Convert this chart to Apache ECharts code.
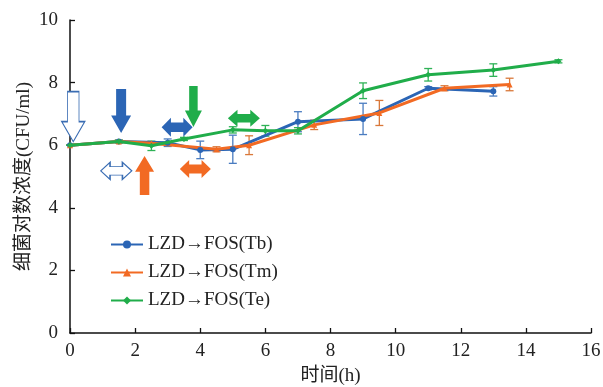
<!DOCTYPE html>
<html>
<head>
<meta charset="utf-8">
<script src="https://cdn.jsdelivr.net/npm/echarts@6/dist/echarts.min.js"></script>
<style>html,body{margin:0;padding:0;background:#fff}#c{width:603px;height:387px}</style>
</head>
<body>
<div id="c"></div>
<script>
// Time points (h) and log concentrations
const tbX = [0, 1.5, 3, 4, 5, 7, 9, 11, 13];
const tbY = [6.0, 6.12, 6.08, 5.85, 5.87, 6.75, 6.84, 7.82, 7.72];
const tbErr = [0, 0.04, 0.12, 0.28, 0.45, 0.32, 0.5, 0.05, 0.15];

const tmX = [0, 1.5, 2.5, 4.5, 5.5, 7.5, 9.5, 11.5, 13.5];
const tmY = [6.0, 6.12, 6.06, 5.87, 6.0, 6.65, 7.03, 7.82, 7.94];
const tmErr = [0, 0.04, 0.05, 0.08, 0.3, 0.15, 0.4, 0.08, 0.2];

const teX = [0, 1.5, 2.5, 3.5, 5, 6, 7, 9, 11, 13, 15];
const teY = [6.0, 6.12, 5.98, 6.2, 6.49, 6.46, 6.46, 7.74, 8.25, 8.4, 8.68];
const teErr = [0, 0.04, 0.15, 0.05, 0.1, 0.17, 0.1, 0.25, 0.2, 0.2, 0.05];

const seriesNames = ['LZD\u2192FOS(Tb)', 'LZD\u2192FOS(Tm)', 'LZD\u2192FOS(Te)'];
const xTicks = [0, 2, 4, 6, 8, 10, 12, 14, 16];
const yTicks = [0, 2, 4, 6, 8, 10];

// Annotation arrows (data-space centres)
const arrowX = [0.10, 1.57, 1.42, 2.29, 3.29, 3.79, 3.85, 5.34];
const arrowY = [6.91, 7.09, 5.18, 5.03, 6.57, 7.24, 5.24, 6.86];
const arrowKind = ['down', 'down', 'double', 'up', 'double', 'down', 'double', 'double'];
const arrowColor = ['hollow', 'blue', 'hollow', 'orange', 'blue', 'green', 'orange', 'green'];
const arrowSize = [[23, 50], [20, 44], [31, 17], [19, 39], [31, 19], [17, 41], [31, 18], [32, 17]];

const COL = { blue: '#2b65b5', orange: '#f26a23', green: '#20ad4a' };
const PATH = {
  down: 'path://M25,0 L75,0 L75,60 L100,60 L50,100 L0,60 L25,60 Z',
  up: 'path://M50,0 L100,40 L75,40 L75,100 L25,100 L25,40 L0,40 Z',
  double: 'path://M0,50 L30,0 L30,25 L70,25 L70,0 L100,50 L70,100 L70,75 L30,75 L30,100 Z'
};

function zip(xs, ys) { return xs.map((x, i) => [x, ys[i]]); }
function errData(xs, ys, es) { return xs.map((x, i) => [x, ys[i] - es[i], ys[i] + es[i]]); }

function errSeries(xs, ys, es, color) {
  return {
    type: 'custom',
    data: errData(xs, ys, es),
    z: 3,
    silent: true,
    renderItem: function (params, api) {
      const x = api.value(0);
      const lo = api.coord([x, api.value(1)]);
      const hi = api.coord([x, api.value(2)]);
      const w = 4;
      const st = { stroke: color, lineWidth: 1.3 };
      return {
        type: 'group',
        children: [
          { type: 'line', shape: { x1: lo[0], y1: lo[1], x2: hi[0], y2: hi[1] }, style: st },
          { type: 'line', shape: { x1: lo[0] - w, y1: lo[1], x2: lo[0] + w, y2: lo[1] }, style: st },
          { type: 'line', shape: { x1: hi[0] - w, y1: hi[1], x2: hi[0] + w, y2: hi[1] }, style: st }
        ]
      };
    }
  };
}

const FONT = '"Liberation Serif", "Noto Sans CJK SC", serif';

const arrowData = arrowX.map((x, i) => {
  const c = arrowColor[i];
  const style = c === 'hollow'
    ? { color: '#ffffff', borderColor: '#3a6db3', borderWidth: 1.2, opacity: 1 }
    : { color: COL[c], borderWidth: 0, opacity: 1 };
  return {
    value: [x, arrowY[i]],
    symbol: PATH[arrowKind[i]],
    symbolSize: arrowSize[i],
    itemStyle: style
  };
});

const chart = echarts.init(document.getElementById('c'), null, { renderer: 'canvas' });
chart.setOption({
  animation: false,
  backgroundColor: '#ffffff',
  grid: { left: 70, right: 12, top: 20, bottom: 54, containLabel: false, outerBoundsMode: 'none' },
  xAxis: {
    type: 'value', min: xTicks[0], max: xTicks[xTicks.length - 1], interval: 2,
    name: '时间(h)', nameLocation: 'middle', nameGap: 34, nameMoveOverlap: false,
    nameTextStyle: { fontFamily: FONT, fontSize: 19, color: '#222' },
    axisLine: { lineStyle: { color: '#111', width: 1.5 } },
    axisTick: { inside: true, length: 5, lineStyle: { color: '#111', width: 1.3 } },
    axisLabel: { fontFamily: FONT, fontSize: 19, color: '#222', margin: 9 },
    splitLine: { show: false }
  },
  yAxis: {
    type: 'value', min: yTicks[0], max: yTicks[yTicks.length - 1], interval: 2,
    name: '细菌对数浓度(CFU/ml)', nameLocation: 'middle', nameGap: 36, nameRotate: 90,
    nameMoveOverlap: false,
    nameTextStyle: { fontFamily: FONT, fontSize: 19, color: '#222' },
    axisLine: { show: true, lineStyle: { color: '#111', width: 1.5 } },
    axisTick: { show: true, inside: true, length: 5, lineStyle: { color: '#111', width: 1.3 } },
    axisLabel: { fontFamily: FONT, fontSize: 19, color: '#222', margin: 12 },
    splitLine: { show: false }
  },
  legend: {
    data: seriesNames,
    orient: 'vertical',
    left: 105, top: 230,
    itemWidth: 32, itemHeight: 10, itemGap: 9,
    textStyle: { fontFamily: FONT, fontSize: 19, color: '#222' }
  },
  series: [
    errSeries(tbX, tbY, tbErr, '#4a7cc0'),
    errSeries(tmX, tmY, tmErr, '#d9783a'),
    errSeries(teX, teY, teErr, '#2fb257'),
    {
      name: seriesNames[0], type: 'line', data: zip(tbX, tbY), z: 4,
      symbol: 'circle', symbolSize: 6, showSymbol: true,
      lineStyle: { color: COL.blue, width: 3 }, itemStyle: { color: COL.blue }
    },
    {
      name: seriesNames[1], type: 'line', data: zip(tmX, tmY), z: 4,
      symbol: 'triangle', symbolSize: 6,
      lineStyle: { color: COL.orange, width: 3 }, itemStyle: { color: COL.orange }
    },
    {
      name: seriesNames[2], type: 'line', data: zip(teX, teY), z: 5,
      symbol: 'diamond', symbolSize: 6,
      lineStyle: { color: COL.green, width: 3 }, itemStyle: { color: COL.green }
    },
    {
      name: 'arrows', type: 'scatter', data: arrowData, z: 10, silent: true
    }
  ]
});
</script>
</body>
</html>
